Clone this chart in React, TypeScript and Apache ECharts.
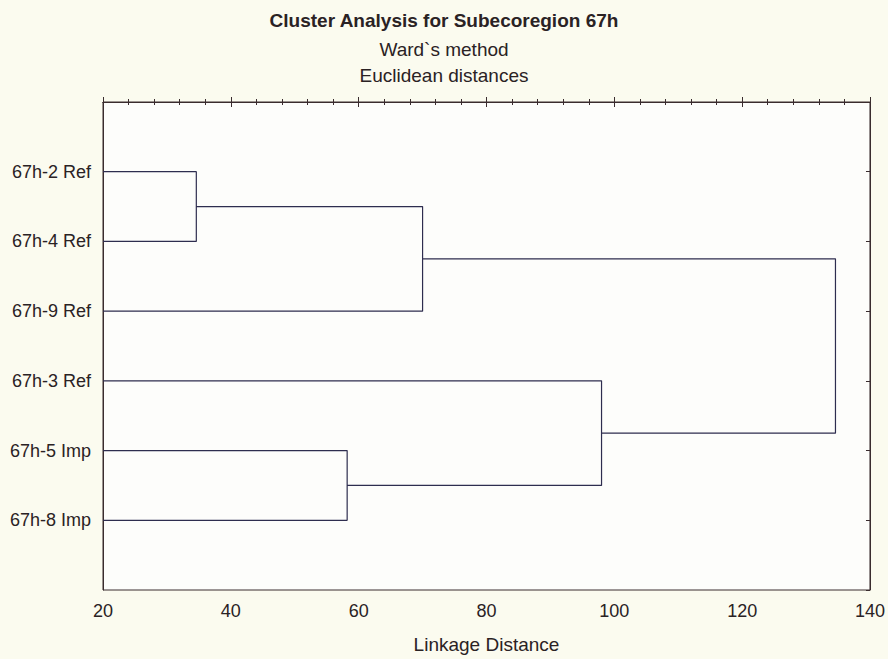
import React, { useEffect, useRef } from "react";
import * as echarts from "echarts";

// Leaves, top to bottom
const leafLabels = ["67h-2 Ref", "67h-4 Ref", "67h-9 Ref", "67h-3 Ref", "67h-5 Imp", "67h-8 Imp"];
// Merge steps: [left node, right node, linkage distance]; nodes >= 6 refer to earlier merges
const mergeLeft = [0, 2, 4, 3, 7];
const mergeRight = [1, 6, 5, 8, 9];
const mergeHeight = [34.6, 70.0, 58.2, 98.0, 134.6];
const xTicks = [20, 40, 60, 80, 100, 120, 140];

const X_MIN = 20;

export default function App() {
  const ref = useRef<HTMLDivElement>(null);
  useEffect(() => {
    if (!ref.current) return;
    const chart = echarts.init(ref.current, undefined, { renderer: "svg" });
    const n = leafLabels.length;
    const nodeX: number[] = [];
    const nodeY: number[] = [];
    for (let i = 0; i < n; i++) {
      nodeX.push(X_MIN);
      nodeY.push(i + 1);
    }
    const pts: any[] = [];
    for (let k = 0; k < mergeHeight.length; k++) {
      const a = mergeLeft[k];
      const b = mergeRight[k];
      const h = mergeHeight[k];
      pts.push([nodeX[a], nodeY[a]], [h, nodeY[a]], [h, nodeY[b]], [nodeX[b], nodeY[b]], "-");
      nodeX.push(h);
      nodeY.push((nodeY[a] + nodeY[b]) / 2);
    }
    const frame = "#3a2c2e";
    const txt = "#2a2224";
    const font = "'Liberation Sans', Arial, sans-serif";
    const tickCommon = {
      show: true,
      inside: true,
      length: 5,
      lineStyle: { color: frame, width: 1 },
    };
    chart.setOption({
      animation: false,
      backgroundColor: "transparent",
      title: [
        {
          text: "Cluster Analysis for Subecoregion 67h",
          left: "center",
          top: 6,
          textStyle: { fontFamily: font, fontSize: 19, fontWeight: "bold", color: txt },
        },
        {
          text: "Ward`s method",
          left: "center",
          top: 35,
          textStyle: { fontFamily: font, fontSize: 19, fontWeight: "normal", color: txt },
        },
        {
          text: "Euclidean distances",
          left: "center",
          top: 61,
          textStyle: { fontFamily: font, fontSize: 19, fontWeight: "normal", color: txt },
        },
      ],
      grid: {
        left: 103,
        right: 18,
        top: 102,
        bottom: 64,
        show: true,
        backgroundColor: "#fdfdfb",
        borderColor: frame,
        borderWidth: 1,
      },
      xAxis: [
        {
          type: "value",
          min: 20,
          max: 140,
          interval: 20,
          position: "bottom",
          name: "Linkage Distance",
          nameLocation: "middle",
          nameGap: 45,
          nameTextStyle: { fontFamily: font, fontSize: 19, color: txt },
          axisLine: { show: true, lineStyle: { color: frame } },
          axisTick: tickCommon,
          minorTick: { show: true, splitNumber: 5, length: 3, lineStyle: { color: frame } },
          splitLine: { show: false },
          axisLabel: {
            fontFamily: font,
            fontSize: 18,
            color: txt,
            margin: 12,
            customValues: xTicks,
          },
        },
        {
          type: "value",
          min: 20,
          max: 140,
          interval: 20,
          position: "top",
          axisLine: { show: true, lineStyle: { color: frame } },
          axisTick: tickCommon,
          minorTick: { show: true, splitNumber: 5, length: 3, lineStyle: { color: frame } },
          splitLine: { show: false },
          axisLabel: { show: false },
        },
      ],
      yAxis: [
        {
          type: "value",
          min: 0,
          max: n + 1,
          interval: 1,
          inverse: true,
          position: "left",
          axisLine: { show: true, lineStyle: { color: frame } },
          axisTick: { show: false },
          splitLine: { show: false },
          axisLabel: {
            fontFamily: font,
            fontSize: 18,
            color: txt,
            margin: 12,
            formatter: (v: number) => (v >= 1 && v <= n ? leafLabels[v - 1] : ""),
          },
        },
        {
          type: "value",
          min: 0,
          max: n + 1,
          interval: 1,
          inverse: true,
          position: "right",
          axisLine: { show: true, lineStyle: { color: frame } },
          axisTick: { ...tickCommon, length: 4 },
          splitLine: { show: false },
          axisLabel: { show: false },
        },
      ],
      series: [
        {
          type: "line",
          xAxisIndex: 0,
          yAxisIndex: 0,
          data: pts,
          showSymbol: false,
          symbol: "none",
          connectNulls: false,
          lineStyle: { color: "#2e2d4f", width: 1.2 },
          silent: true,
        },
      ],
    });
    return () => chart.dispose();
  }, []);
  return (
    <div
      style={{
        position: "fixed",
        left: 0,
        top: 0,
        width: 888,
        height: 659,
        background: "#fbfbef",
      }}
    >
      <div ref={ref} style={{ width: 888, height: 659 }} />
    </div>
  );
}
